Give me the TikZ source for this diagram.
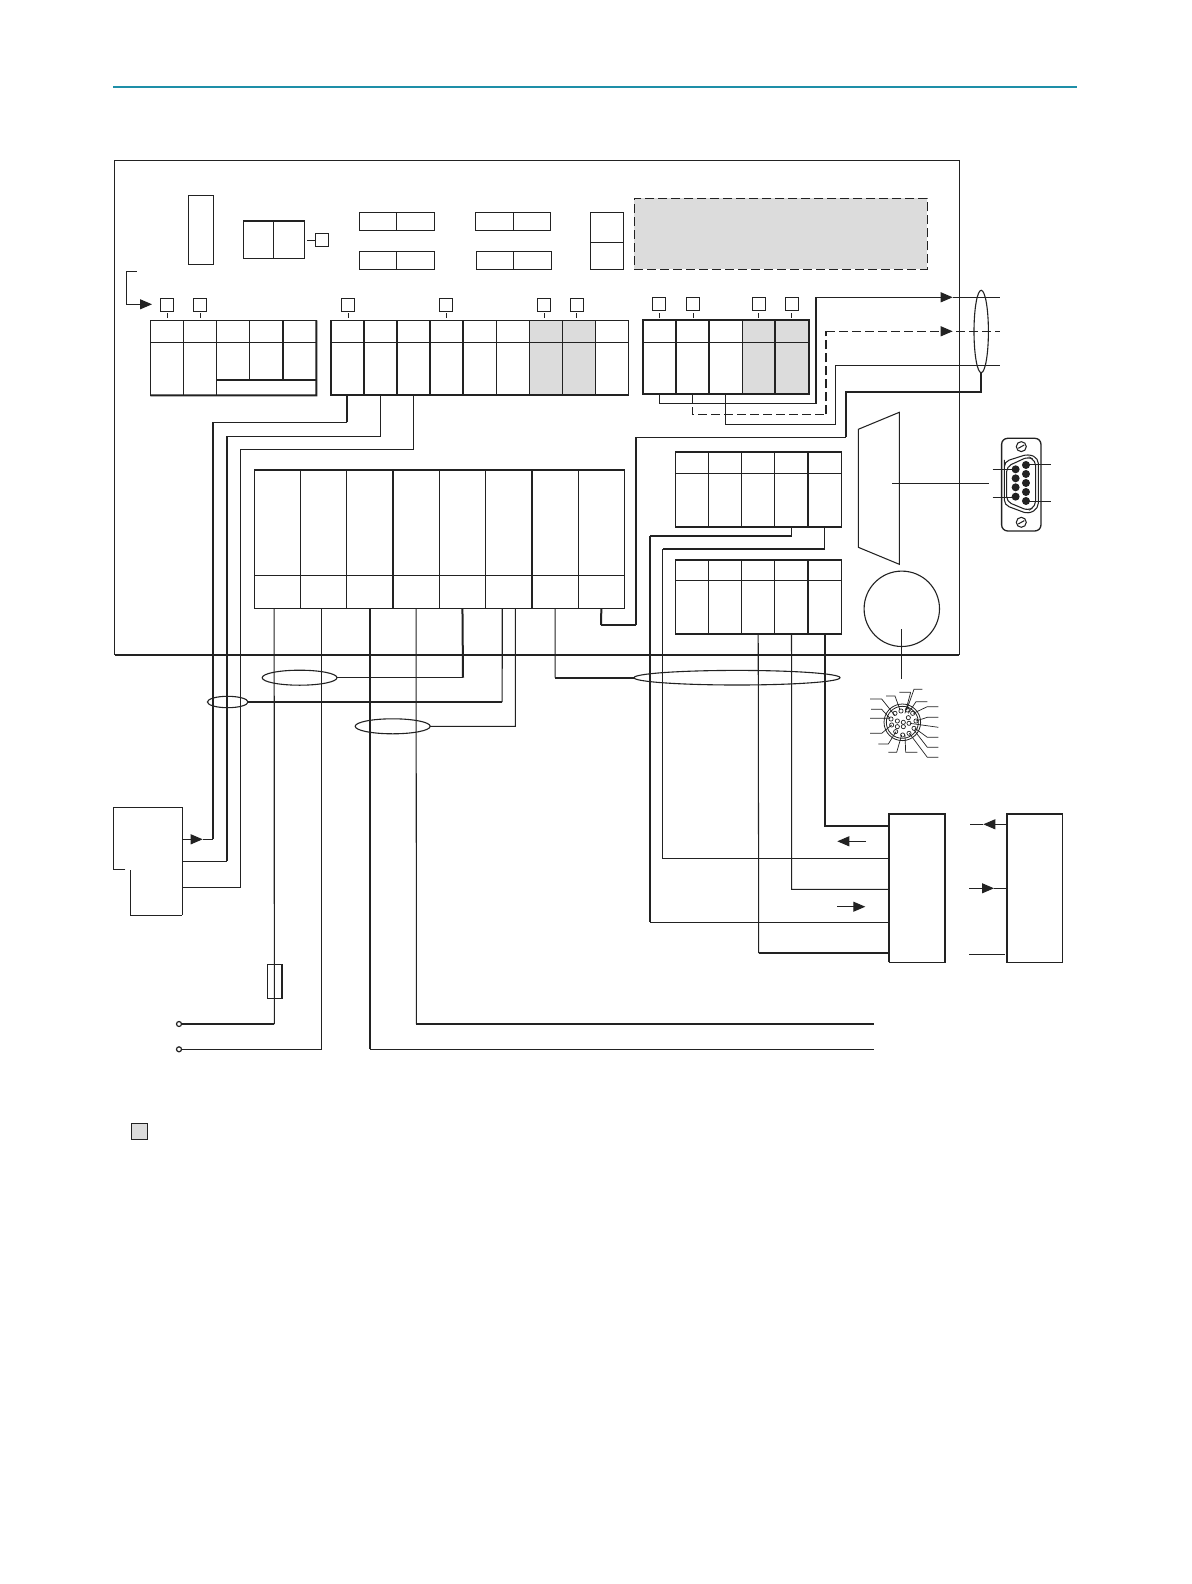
\documentclass[tikz,border=0pt]{standalone}
\usepackage{xcolor}
\usetikzlibrary{
    arrows.meta,
    shapes.geometric,
    calc
}
\definecolor{inkc}{HTML}{222222}
\definecolor{greyc}{HTML}{DCDCDC}
\definecolor{rulec}{HTML}{1E8FA8}
\tikzset{
    wire/.style={draw=inkc, line width=1.05pt},
    wirem/.style={draw=inkc, line width=1.6pt},
    wireh/.style={draw=inkc, line width=2pt},
    broken/.style={dash pattern=on 9pt off 4pt},
    cellbox/.style={draw=inkc, line width=1.05pt, inner sep=0pt, outer sep=0pt, anchor=north west},
    tag/.style={cellbox, minimum width=13.4pt, minimum height=13.4pt},
    loopmark/.style={draw=inkc, line width=1.1pt, ellipse, inner sep=0pt, outer sep=0pt},
    termdot/.style={draw=inkc, fill=white, line width=1.2pt, circle, minimum size=5pt, inner sep=0pt, outer sep=0pt},
    head/.style={-{Triangle[length=12pt,width=10pt]}}
}
\begin{document}
\begin{tikzpicture}[x=1pt,y=-1pt]
    \useasboundingbox (0,0) rectangle (1191,1584);
    \fill[white] (0,0) rectangle (1191,1584);

    \coordinate (rulel) at (113,87);
    \coordinate (ruler) at (1077,87);
    \draw[draw=rulec, line width=1.1pt] (rulel) -- (ruler);

    % housing
    \node[cellbox, minimum width=844.8, minimum height=494.4] (housing) at (114.5,160.3) {};
    \draw[wireh] (housing.south west) -- (housing.south east);

    % upper row
    \node[cellbox, minimum width=25.1, minimum height=69] (tall) at (188.5,195.3) {};
    \node[cellbox, minimum width=30.4, minimum height=37.3] (pa1) at (243.2,221) {};
    \node[cellbox, minimum width=30.9, minimum height=37.3] (pa2) at (273.6,221) {};
    \node[tag] (tagp) at (315.2,233.3) {};
    \coordinate (tickp) at (307.3,240.3);
    \draw[wire] (tickp) -- (tickp -| tagp.west);
    \foreach \n/\xa/\xm/\xb/\yt in {q/359.3/396.1/434.7/212.3, r/359.3/396.1/434.7/251.3, s/475.4/513.2/550.8/212.3, u/476.4/513.2/551.4/251.3} {
        \node[cellbox, minimum width={\xm-\xa}, minimum height=18.2] (\n1) at (\xa,\yt) {};
        \node[cellbox, minimum width={\xb-\xm}, minimum height=18.2] (\n2) at (\xm,\yt) {};
    }
    \node[cellbox, minimum width=33.4, minimum height=30] (v1) at (590.4,212.3) {};
    \node[cellbox, minimum width=33.4, minimum height=27] (v2) at (590.4,242.3) {};
    \node[cellbox, fill=greyc, broken, minimum width=293, minimum height=71] (display) at (634.3,198.3) {};

    % small entry arrow
    \coordinate (entrya) at (136.8,271.3);
    \coordinate (entryb) at (126.2,271.3);
    \coordinate (entryc) at (126.2,304.3);
    \coordinate (entryd) at (152,304.3);
    \draw[wire, head] (entrya) -- (entryb) -- (entryc) -- (entryd);

    % tags above the terminal rows
    \foreach \n/\x/\y/\t in {1/160.3/298.3/167.5, 2/193.3/298.3/200.2, 3/341.4/298.3/348.3, 4/439.2/298.3/446.4, 5/537.3/298.3/544.2, 6/570.4/298.3/576.3, 7/652.3/297.3/659.3, 8/686.3/297.3/693.3, 9/752.3/297.3/758.3, 10/785.3/297.3/791.3} {
        \node[tag] (tag\n) at (\x,\y) {};
        \coordinate (tick\n) at (\t,318);
        \draw[wire] (tick\n) -- (tick\n |- 0,313);
    }

    % row a
    \foreach \n/\xa/\xb/\yb in {1/150.3/183.3/395.3, 2/183.3/216.4/395.3, 3/216.4/249.8/380, 4/249.8/282.9/380, 5/282.9/316.3/380} {
        \node[cellbox, minimum width={\xb-\xa}, minimum height=22] (ah\n) at (\xa,320.3) {};
        \node[cellbox, minimum width={\xb-\xa}, minimum height={\yb-342.3}] (a\n) at (\xa,342.3) {};
    }
    \node[cellbox, minimum width=99.9, minimum height=15.3] (a6) at (216.4,380) {};
    \draw[wireh] (a1.south west) -- (a2.south east) -- (a6.south east) -- (ah5.north east);
    \draw[wireh] (a6.north west) -- (a6.north east);
    \draw[wirem] (a5.south west) -- (ah5.north west);

    % row b
    \foreach \n/\xa/\xb/\fillc in {1/330.7/364.1/white, 2/364.1/396.8/white, 3/396.8/430.2/white, 4/430.2/463/white, 5/463/496.4/white, 6/496.4/529.4/white, 7/529.4/562.5/greyc, 8/562.5/595.5/greyc, 9/595.5/628.6/white} {
        \node[cellbox, fill=\fillc, minimum width={\xb-\xa}, minimum height=22] (bh\n) at (\xa,320.3) {};
        \node[cellbox, fill=\fillc, minimum width={\xb-\xa}, minimum height=53] (b\n) at (\xa,342.3) {};
    }
    \foreach \n in {1,...,6} {
        \draw[wirem] (bh\n.north west) -- (b\n.south west);
    }
    \draw[wireh] (b1.south west) -- (b9.south east);

    % row c
    \foreach \n/\xa/\xb/\fillc in {1/642.7/676/white, 2/676/709/white, 3/709/742.3/white, 4/742.3/775/greyc, 5/775/808.7/greyc} {
        \node[cellbox, fill=\fillc, minimum width={\xb-\xa}, minimum height=22.6] (ch\n) at (\xa,319.7) {};
        \node[cellbox, fill=\fillc, minimum width={\xb-\xa}, minimum height=51.7] (c\n) at (\xa,342.3) {};
        \draw[wirem] (ch\n.north west) -- (c\n.south west);
    }
    \draw[wireh] (ch1.north west) -- (ch5.north east) -- (c5.south east) -- (c1.south west);

    % terminal strip
    \foreach \n/\xa/\xb in {1/254.6/300.4, 2/300.4/346.6, 3/346.6/393, 4/393/439.2, 5/439.2/485.7, 6/485.7/531.8, 7/531.8/578.3, 8/578.3/624.4} {
        \node[cellbox, minimum width={\xb-\xa}, minimum height=105.3] (th\n) at (\xa,470) {};
        \node[cellbox, minimum width={\xb-\xa}, minimum height=33] (t\n) at (\xa,575.3) {};
    }
    \draw[wireh] (th1.north west) -- (th8.north east);
    \draw[wirem] (th4.north west) -- (t4.south west);
    \draw[wirem] (th7.north west) -- (t7.south west);

    % rows e and f
    \foreach \r/\yt/\ym/\yb in {e/452/473.3/526.7, f/559.7/580.3/634} {
        \foreach \n/\xa/\xb in {1/675.3/708.7, 2/708.7/741.7, 3/741.7/774.7, 4/774.7/808.3, 5/808.3/841.3} {
            \node[cellbox, minimum width={\xb-\xa}, minimum height={\ym-\yt}] (\r h\n) at (\xa,\yt) {};
            \node[cellbox, minimum width={\xb-\xa}, minimum height={\yb-\ym}] (\r\n) at (\xa,\ym) {};
        }
        \draw[wirem] (\r h1.north west) -- (\r h5.north east) -- (\r5.south east) -- (\r1.south west);
        \draw[wireh] (\r h5.north west) -- (\r5.south west);
    }

    % sub-d outline and round plug
    \coordinate (sda) at (858.3,429.3);
    \coordinate (sdb) at (899.3,412.3);
    \coordinate (sdc) at (899.3,564.3);
    \coordinate (sdd) at (858.3,547.3);
    \draw[wire] (sda) -- (sdb) -- (sdc) -- (sdd) -- cycle;
    \coordinate (sdl) at (892,483.3);
    \coordinate (sdr) at (989,483.3);
    \draw[wire] (sdl) -- (sdr);
    \node[draw=inkc, line width=1.1pt, circle, minimum size=75.4, inner sep=0pt] (round) at (901.8,608.8) {};
    \coordinate (rounda) at (901.3,629);
    \coordinate (roundb) at (901.3,678.7);
    \draw[wire] (rounda) -- (roundb);

    % sub-d plug
    \begin{scope}[shift={(620,180)}, x=0.3333pt, y=-0.3333pt]
        \draw[line width=1.3pt, draw=inkc, rounded corners=6pt] (1145,775) rectangle (1263,1053);
        \draw[wire, rounded corners=5pt] (1153,855) -- (1153,845) -- (1225,822) -- (1255,835) -- (1255,985) -- (1225,1002) -- (1153,975) -- cycle;
        \draw[wire, rounded corners=5pt] (1160,860) -- (1225,830) -- (1247,842) -- (1247,978) -- (1225,992) -- (1160,965) -- cycle;
        \foreach \y in {800,1027} {
            \draw[wire] (1204,\y) circle (5pt);
            \draw[wire] (1195,\y+5) -- (1213,\y-5);
        }
        \foreach \y in {868,895,922,950} {
            \fill[inkc] (1187,\y) circle (4pt);
        }
        \foreach \y in {855,882,909,936,963} {
            \fill[inkc] (1218,\y) circle (4pt);
        }
        \foreach \y in {868,952} {
            \draw[wire] (1118,\y) -- (1187,\y);
        }
        \foreach \y in {853,965} {
            \draw[wire] (1218,\y) -- (1292,\y);
        }
    \end{scope}

    % round plug pins
    \begin{scope}[shift={(840,550)}, x=0.3333pt, y=-0.3333pt]
        \draw[line width=0.8pt, draw=inkc] (187,517) circle (18.3pt);
        \draw[line width=0.8pt, draw=inkc] (187,517) circle (16pt);
        \foreach \x/\y in {183/483, 202/480, 218/490, 228/513, 222/535, 207/550, 188/555, 167/545, 155/525, 153/507, 165/490, 172/513, 205/503, 190/517, 207/520, 190/530, 172/530} {
            \draw[line width=0.7pt, draw=inkc] (\x,\y) circle (2.1pt);
        }
        \draw[line width=0.7pt, draw=inkc]
            (90,447) -- (125,447) -- (165,497)
            (93,478) -- (125,478) -- (150,505)
            (90,505) -- (150,505)
            (90,550) -- (125,550) -- (155,525)
            (115,582) -- (145,582) -- (168,545)
            (145,607) -- (170,607) -- (185,555)
            (232,607) -- (197,607) -- (195,555)
            (295,622) -- (262,622) -- (208,550)
            (295,592) -- (262,592) -- (222,540)
            (295,562) -- (262,562) -- (225,535)
            (295,532) -- (210,520)
            (295,502) -- (262,502) -- (228,513)
            (295,470) -- (262,470) -- (220,490)
            (262,455) -- (228,455) -- (205,490)
            (247,418) -- (222,418) -- (200,480)
            (212,427) -- (178,427)
            (212,427) -- (195,490)
            (138,438) -- (165,438) -- (180,480);
    \end{scope}

    % cable marks
    \node[loopmark, minimum width=74.8, minimum height=15] (ella) at (299.6,677.7) {};
    \node[loopmark, minimum width=40.6, minimum height=11.4] (ellb) at (227.7,702) {};
    \node[loopmark, minimum width=75, minimum height=15] (ellc) at (392.7,726.3) {};
    \node[loopmark, minimum width=206, minimum height=14.6] (elld) at (737,677.7) {};
    \node[loopmark, minimum width=14.4, minimum height=82.4] (elle) at (981.2,331.5) {};

    % sender/receiver on the left
    \coordinate (senda) at (113.7,807.3);
    \coordinate (sendb) at (182.3,807.3);
    \coordinate (sendc) at (182.3,915.3);
    \coordinate (sendd) at (130.3,915.3);
    \coordinate (sende) at (130.3,870);
    \coordinate (sendf) at (125.3,869.3);
    \coordinate (sendg) at (113.7,869.3);
    \draw[wire] (sende) -- (sendd) -- (sendc);
    \draw[wire] (sendf) -- (sendg) -- (senda) -- (sendb);
    \draw[wirem] (sendb) -- (sendc);

    % wires row b to sender
    \coordinate (w1a) at (213,422.3);
    \coordinate (w1b) at (213,839.3);
    \coordinate (w1c) at (202.7,839.3);
    \draw[wireh] (b1.south) -- (b1.south |- w1a);
    \draw[wire] (b1.south |- w1a) -- (w1a);
    \draw[wireh] (w1a) -- (w1b);
    \draw[wire] (w1b) -- (w1c);
    \draw[wire, head] (sendb |- w1b) -- (w1c);
    \coordinate (w2a) at (227,436.3);
    \coordinate (w2b) at (227,861.3);
    \draw[wire] (b2.south) |- (w2a);
    \draw[wireh] (w2a) -- (w2b);
    \draw[wire] (w2b) -- (sendb |- w2b);
    \coordinate (w3a) at (240.4,449.3);
    \coordinate (w3b) at (240.4,887.3);
    \draw[wire] (b3.south) |- (w3a) -- (w3b) -- (sendb |- w3b);

    % wires from terminal strip
    \node[termdot] (termp) at (179,1024) {};
    \node[termdot] (termn) at (179,1049.3) {};
    \node[cellbox, minimum width=14.4, minimum height=34.4] (fuse) at (267.3,964.3) {};
    \coordinate (t1c) at (274.3,1024);
    \draw[wire] ([xshift=-3.3]t1.south) -- (t1c);
    \draw[wireh] (t1c) -- (termp);
    \draw[wirem] (fuse.north east) -- (fuse.south east);
    \coordinate (t2c) at (321.6,1049.3);
    \draw[wire] ([xshift=-1.9]t2.south) -- (t2c) -- (termn);
    \coordinate (t3c) at (369.8,1049.3);
    \coordinate (t3d) at (873.7,1049.3);
    \draw[wireh] (t3.south) -- (t3c);
    \draw[wire] (t3c) -- (t3d);
    \coordinate (t4c) at (416.4,1024);
    \coordinate (t4d) at (873.7,1024);
    \draw[wire] (t4.south) -- (t4c);
    \draw[wireh] (t4c) -- (t4d);
    \coordinate (t5c) at (463,677.7);
    \draw[wireh] (t5.south) -- (t5c);
    \draw[wire] (t5c) -- (ella.east);
    \coordinate (t6a) at (502.2,702);
    \coordinate (t6b) at (515.3,726.3);
    \draw[wire] ([xshift=-6.5]t6.south) -- (t6a);
    \draw[wireh] (t6a) -- (ellb.east);
    \draw[wire] ([xshift=6.6]t6.south) -- (t6b) -- (ellc.east);
    \coordinate (t7c) at (555.2,677.7);
    \draw[wire] (t7.south) -- (t7c);
    \draw[wireh] (t7c) -- (elld.west);
    \coordinate (t8a) at (601,625);
    \coordinate (t8b) at (635.8,625);
    \coordinate (t8c) at (635.8,437.3);
    \coordinate (t8d) at (846,437.3);
    \coordinate (t8e) at (846,391.7);
    \coordinate (t8f) at (981.2,391.7);
    \draw[wireh] (t8.south) -- (t8a);
    \draw[wire] (t8a) -- (t8b);
    \draw[wireh] (t8b) -- (t8c);
    \draw[wire] (t8c) -- (t8d);
    \draw[wireh] (t8d) -- (t8e) -- (t8f) -- (elle.south);

    % wires row c
    \coordinate (c1a) at (815.7,403.7);
    \coordinate (c1b) at (815.7,297.3);
    \coordinate (c1c) at (952.7,297.3);
    \coordinate (c1d) at (1000,297.3);
    \draw[wire] (c1.south) |- (c1a);
    \draw[wireh] (c1a) -- (c1b);
    \draw[wire, head] (c1b) -- (c1c);
    \draw[wire] (c1c) -- (c1d);
    \coordinate (c2a) at (826.3,414.3);
    \coordinate (c2b) at (826.3,331.3);
    \coordinate (c2c) at (952.7,331.3);
    \coordinate (c2d) at (1000,331.3);
    \draw[wire, broken] (c2.south) |- (c2a);
    \draw[wireh, broken] (c2a) -- (c2b);
    \draw[wire, broken] (c2b) -- (c2d);
    \draw[wire, head] ($(c2c)+(-12,0)$) -- (c2c);
    \coordinate (c3a) at (835.7,424.3);
    \coordinate (c3b) at (835.7,365.3);
    \coordinate (c3c) at (1000,365.3);
    \draw[wire] (c3.south) |- (c3a) -- (c3b) -- (c3c);

    % boxes on the right
    \node[cellbox, minimum width=56, minimum height=148.6] (boxx) at (889.3,813.7) {};
    \node[cellbox, minimum width=56, minimum height=148.6] (boxy) at (1006.7,813.7) {};
    \draw[wireh] (boxx.south west) -- (boxx.north west) -- (boxx.north east) -- (boxx.south east);
    \draw[wireh] (boxy.south west) -- (boxy.north west) -- (boxy.north east);

    % wires rows e and f to box
    \coordinate (e4a) at (650,536);
    \coordinate (e4b) at (650,922.3);
    \draw[wire] ([xshift=0.2]e4.south) |- (e4a);
    \draw[wireh] (e4a) -- (e4b);
    \draw[wire] (e4b) -- (boxx.west |- e4b);
    \coordinate (e5a) at (662.7,549);
    \coordinate (e5b) at (662.7,858.3);
    \draw[wire] (e5.south) -- (e5.south |- e5a);
    \draw[wireh] (e5.south |- e5a) -- (e5a);
    \draw[wire] (e5a) -- (e5b) -- (boxx.west |- e5b);
    \coordinate (f3a) at (758.7,953);
    \draw[wire] (f3.south) -- (f3a);
    \draw[wireh] (f3a) -- (boxx.west |- f3a);
    \coordinate (f4a) at (791.7,889.3);
    \draw[wire] (f4.south) -- (f4a) -- (boxx.west |- f4a);
    \coordinate (f5a) at (824.8,825.7);
    \draw[wireh] (f5.south) -- (f5a) -- (boxx.west |- f5a);

    % free arrows
    \coordinate (fa1) at (866,841.3);
    \coordinate (fa2) at (837.3,841.3);
    \draw[wire, head] (fa1) -- (fa2);
    \coordinate (fb1) at (837,906.7);
    \coordinate (fb2) at (865.3,906.7);
    \draw[wire, head] (fb1) -- (fb2);
    \coordinate (ya1) at (983.3,824.3);
    \coordinate (ya2) at (970,824.3);
    \draw[wire, head] (boxy.west |- ya1) -- (ya1);
    \draw[wire] (ya1) -- (ya2);
    \coordinate (yb1) at (969,888.3);
    \coordinate (yb2) at (994,888.3);
    \draw[wire, head] (yb1) -- (yb2);
    \draw[wire] (yb2) -- (boxy.west |- yb2);
    \coordinate (yc1) at (969,954.3);
    \coordinate (yc2) at (1005,954.3);
    \draw[wire] (yc1) -- (yc2);

    % legend
    \node[cellbox, fill=greyc, minimum width=16.4, minimum height=16.4] (legend) at (131.3,1123.3) {};
\end{tikzpicture}
\end{document}
